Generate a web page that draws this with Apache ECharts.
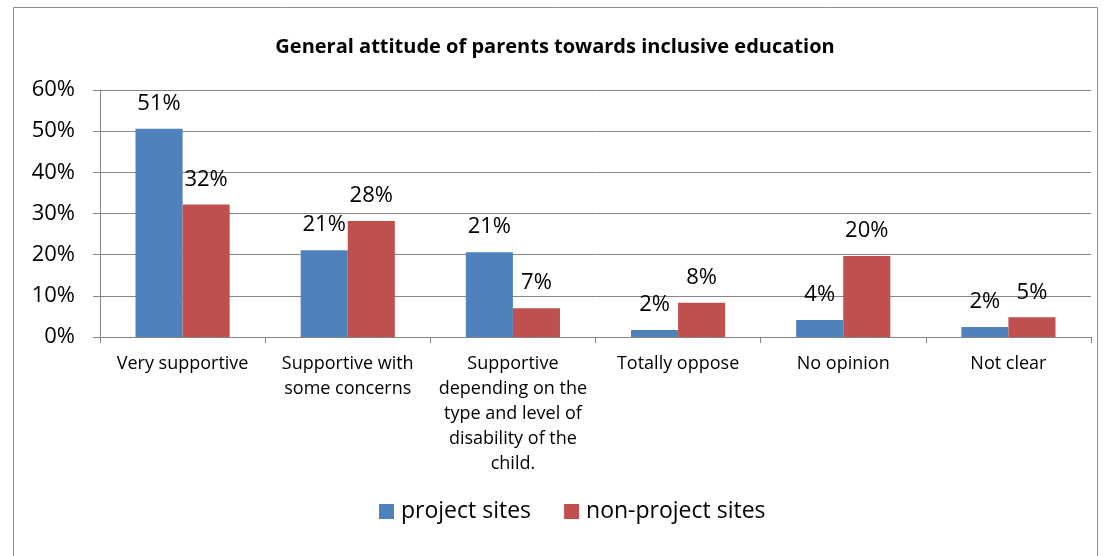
<!DOCTYPE html>
<html>
<head>
<meta charset="utf-8">
<script src="https://cdn.jsdelivr.net/npm/echarts@6/dist/echarts.min.js"></script>
<style>
  html, body { margin: 0; padding: 0; background: #fff; }
  #chart { width: 1110px; height: 556px; }
</style>
</head>
<body>
<div id="chart"></div>
<script>
// data (percent)
const categories = [
  'Very supportive',
  'Supportive with\nsome concerns',
  'Supportive\ndepending on the\ntype and level of\ndisability of the\nchild.',
  'Totally oppose',
  'No opinion',
  'Not clear'
]
const projectSites = [50.6, 21.1, 20.6, 1.7, 4.1, 2.4]
const nonProjectSites = [32.2, 28.2, 7.0, 8.3, 19.7, 4.8]
const yTicks = [0, 10, 20, 30, 40, 50, 60]

const fontFam = '"Open Sans", Lato, sans-serif'
const gridGray = '#868686'

const chart = echarts.init(document.getElementById('chart'))

const labelStyle = {
  show: true,
  position: 'top',
  distance: 14,
  color: '#000',
  fontFamily: fontFam,
  fontSize: 22,
  formatter: (p) => Math.round(p.value) + '%'
}

chart.setOption({
  animation: false,
  title: {
    text: 'General attitude of parents towards inclusive education',
    left: 'center',
    top: 32,
    textStyle: { fontFamily: fontFam, fontSize: 20, fontWeight: 'bold', color: '#000' }
  },
  graphic: [{
    type: 'rect',
    shape: { x: 13.5, y: 7.5, width: 1084, height: 560 },
    style: { fill: 'none', stroke: '#8c8c8c', lineWidth: 1 },
    silent: true
  }],
  legend: {
    bottom: 28,
    left: 374,
    itemWidth: 15,
    itemHeight: 15,
    itemGap: 33,
    icon: 'rect',
    textStyle: { fontFamily: fontFam, fontSize: 23, color: '#000', padding: [0, 0, 0, 2] }
  },
  grid: { left: 100, right: 19, top: 90, bottom: 219, containLabel: false },
  xAxis: {
    type: 'category',
    data: categories,
    axisLine: { lineStyle: { color: gridGray, width: 1 } },
    axisTick: { show: true, length: 6, lineStyle: { color: gridGray } },
    axisLabel: {
      interval: 0,
      margin: 14,
      color: '#000',
      fontFamily: fontFam,
      fontSize: 18,
      lineHeight: 25,
      align: 'center'
    }
  },
  yAxis: {
    type: 'value',
    min: yTicks[0],
    max: yTicks[yTicks.length - 1],
    interval: 10,
    axisLine: { show: true, lineStyle: { color: gridGray } },
    axisTick: { show: true, length: 7, lineStyle: { color: gridGray } },
    splitLine: { lineStyle: { color: gridGray, width: 1 } },
    axisLabel: {
      margin: 25,
      color: '#000',
      fontFamily: fontFam,
      fontSize: 22,
      formatter: '{value}%'
    }
  },
  series: [
    {
      name: 'project sites',
      type: 'bar',
      data: projectSites,
      barGap: '0%',
      barCategoryGap: '43%',
      itemStyle: { color: '#4F81BD' },
      label: labelStyle
    },
    {
      name: 'non-project sites',
      type: 'bar',
      data: nonProjectSites,
      barGap: '0%',
      barCategoryGap: '43%',
      itemStyle: { color: '#C0504D' },
      label: labelStyle
    }
  ]
})

window.addEventListener('resize', () => chart.resize())
</script>
</body>
</html>
